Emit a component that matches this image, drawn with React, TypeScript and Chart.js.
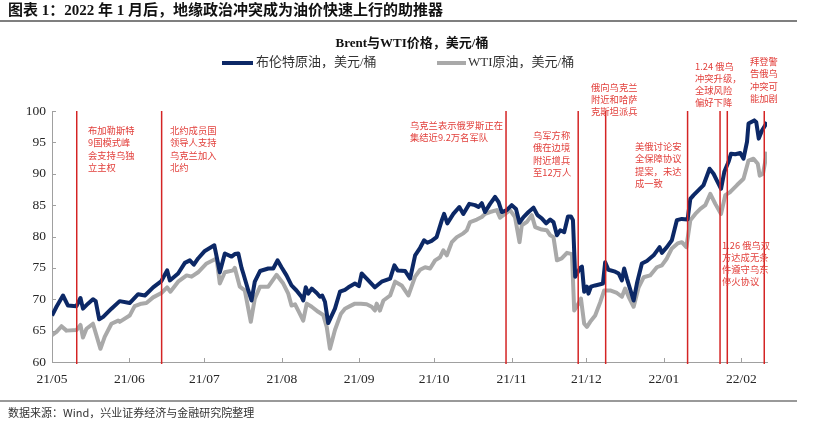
import React, { useEffect, useRef } from "react";
import { Chart, registerables } from "chart.js";

Chart.register(...registerables);

// x values are days counted from 2021-05-01
const monthTicks = [0, 31, 61, 92, 123, 153, 184, 214, 245, 276];
const monthLabels = ["21/05", "21/06", "21/07", "21/08", "21/09", "21/10", "21/11", "21/12", "22/01", "22/02"];
const yTicks = [60, 65, 70, 75, 80, 85, 90, 95, 100];

const brentDays = [
  0, 1.8, 4.4, 6.4, 9.8, 11.4, 12.4, 14.4, 16.4, 17.5, 18.9, 20.5, 23.8, 27.1, 31.1, 34.5, 37.2, 40.5, 43.8, 46.1,
  47.2, 50.5, 53.2, 55.2, 56.8, 58.5, 61.2, 65.0, 67.2, 69.2, 71.9, 73.2, 74.6, 75.9, 76.6, 78.6, 79.9, 81.2, 83.3, 86.6,
  88.6, 90.3, 91.9, 93.9, 95.9, 97.9, 99.9, 100.6, 101.6, 102.6, 104.0, 106.0, 107.3, 108.2, 109.3, 110.6, 113.3, 115.3, 117.3, 118.7,
  121.3, 122.9, 124.0, 126.0, 129.3, 132.0, 135.4, 137.1, 138.4, 141.4, 143.4, 145.4, 147.4, 149.0, 150.3, 152.0, 154.0, 156.1, 157.0, 158.3,
  160.7, 163.1, 164.7, 167.1, 169.4, 170.8, 172.1, 173.4, 175.4, 177.4, 178.8, 180.1, 182.1, 184.1, 185.8, 187.2, 188.8, 190.8, 192.8, 194.4,
  196.1, 197.9, 199.5, 200.8, 202.2, 203.5, 205.1, 206.6, 207.8, 208.6, 209.5, 211.5, 212.2, 213.1, 214.2, 214.8, 215.8, 217.5, 219.5, 220.6,
  221.5, 222.8, 225.5, 226.9, 228.2, 229.1, 230.2, 232.9, 234.2, 236.2, 238.2, 240.9, 243.3, 244.2, 246.2, 248.2, 250.2, 252.2, 254.5, 255.6,
  256.9, 258.9, 260.9, 263.3, 264.9, 266.5, 267.9, 269.2, 270.9, 271.9, 273.6, 275.6, 276.9, 278.3, 278.9, 281.2, 282.0, 283.0, 284.3, 286.3,
];
const brentVals = [
  67.4, 68.8, 70.6, 69.0, 68.9, 70.2, 68.5, 69.3, 70.0, 69.7, 66.8, 67.2, 68.5, 69.7, 69.4, 70.8, 70.6, 71.9, 72.9, 74.6,
  73.0, 74.1, 75.8, 76.2, 75.5, 76.5, 77.7, 78.6, 74.3, 77.3, 76.8, 77.2, 77.3, 75.0, 74.1, 71.4, 69.8, 72.8, 74.5, 74.9,
  74.9, 76.2, 75.1, 73.8, 72.2, 71.4, 70.4, 69.8, 71.9, 70.9, 71.7, 71.0, 70.4, 70.6, 69.6, 66.2, 68.5, 71.2, 71.5, 71.9,
  72.5, 72.1, 74.1, 73.3, 71.9, 72.8, 73.3, 75.4, 74.6, 74.5, 73.3, 77.0, 78.2, 79.4, 79.0, 79.3, 79.9, 82.6, 83.6, 82.1,
  83.6, 84.7, 83.6, 85.2, 85.0, 84.7, 85.3, 83.9, 85.2, 86.3, 85.5, 83.9, 84.2, 85.0, 84.4, 82.2, 83.1, 83.9, 84.6, 83.4,
  82.9, 82.1, 82.7, 82.3, 80.2, 81.0, 80.7, 83.2, 83.2, 82.6, 73.6, 75.0, 75.2, 71.2, 72.0, 70.9, 72.0, 72.2, 72.4, 72.5,
  75.9, 74.7, 74.4, 74.1, 73.0, 74.9, 73.3, 69.8, 72.5, 75.7, 76.1, 77.0, 78.3, 77.4, 78.3, 79.4, 82.6, 82.8, 82.7, 86.0,
  86.6, 87.4, 88.2, 90.8, 90.0, 88.7, 87.6, 90.3, 91.9, 93.2, 93.1, 93.3, 92.4, 95.1, 98.0, 98.5, 98.2, 95.6, 96.9, 98.2,
];

const wtiDays = [
  0, 1.8, 3.8, 5.8, 9.8, 11.4, 12.4, 13.8, 16.4, 19.4, 21.1, 23.8, 26.5, 27.1, 31.1, 33.1, 35.8, 37.8, 40.5, 43.8,
  46.1, 47.4, 50.5, 53.9, 55.9, 58.5, 61.9, 65.9, 67.2, 69.2, 72.6, 73.2, 75.2, 77.2, 79.6, 81.2, 83.3, 86.6, 89.9, 92.6,
  94.6, 95.9, 97.3, 98.6, 100.6, 102.0, 104.0, 106.6, 108.6, 110.0, 111.3, 113.3, 115.7, 117.3, 119.3, 121.3, 123.7, 126.0, 128.0, 129.3,
  130.0, 131.3, 132.7, 135.4, 137.4, 140.0, 142.7, 145.4, 147.4, 149.4, 151.4, 153.4, 155.4, 156.7, 158.1, 160.1, 162.1, 164.7, 166.1, 167.4,
  170.1, 172.1, 173.4, 175.4, 178.1, 179.4, 181.4, 183.4, 185.4, 187.2, 188.1, 190.1, 192.1, 193.5, 196.1, 198.1, 199.5, 200.8, 202.2, 204.1,
  206.2, 208.2, 209.1, 210.8, 211.8, 213.1, 214.2, 215.5, 217.5, 219.5, 221.1, 223.5, 226.2, 228.2, 229.5, 230.9, 232.9, 234.9, 236.9, 239.5,
  242.2, 244.2, 246.2, 248.2, 250.5, 252.2, 254.0, 255.6, 257.6, 259.6, 261.6, 263.6, 265.6, 267.9, 269.6, 271.6, 274.3, 276.9, 278.9, 280.9,
  282.6, 283.4, 284.7, 286.3,
];
const wtiVals = [
  64.3, 64.8, 65.7, 65.0, 65.1, 65.9, 63.9, 65.3, 66.1, 62.1, 64.0, 66.1, 66.6, 66.4, 67.4, 68.9, 69.3, 69.4, 70.3, 71.0,
  71.9, 71.2, 72.8, 73.8, 73.6, 74.3, 75.7, 76.5, 72.5, 74.3, 74.6, 75.0, 72.0, 71.4, 66.4, 70.1, 72.0, 72.0, 73.9, 72.5,
  70.9, 69.0, 69.2, 68.2, 66.6, 69.3, 68.8, 68.0, 67.5, 65.6, 62.1, 65.1, 67.7, 68.5, 68.9, 69.3, 69.3, 69.2, 68.8, 68.2,
  69.3, 68.2, 69.8, 70.6, 72.8, 72.2, 70.6, 73.6, 74.7, 75.1, 74.9, 76.2, 76.7, 77.8, 77.0, 79.1, 79.9, 80.5, 81.0, 82.3,
  82.7, 83.1, 83.6, 83.9, 84.2, 83.0, 83.6, 84.2, 83.1, 79.1, 81.8, 82.3, 83.4, 81.5, 81.1, 81.0, 80.2, 79.9, 76.2, 76.5,
  77.4, 77.2, 68.2, 69.3, 70.1, 66.1, 65.6, 66.4, 67.4, 69.5, 71.4, 71.4, 71.0, 70.4, 71.7, 70.4, 68.8, 71.9, 73.5, 73.8,
  75.1, 75.4, 76.5, 78.1, 78.9, 79.1, 78.3, 82.6, 83.6, 84.4, 85.0, 86.8, 85.2, 83.6, 86.6, 87.1, 88.2, 89.2, 92.1, 92.4,
  91.6, 89.7, 90.0, 93.5,
];

// event markers (days from 2021-05-01)
const eventDays = [9.9, 43.9, 181.8, 210.7, 221.7, 254.5, 267.5, 270.4, 285.2];

const noteTexts = [
  ["布加勒斯特", "9国模式峰", "会支持乌独", "立主权"],
  ["北约成员国", "领导人支持", "乌克兰加入", "北约"],
  ["乌克兰表示俄罗斯正在", "集结近9.2万名军队"],
  ["乌军方称", "俄在边境", "附近增兵", "至12万人"],
  ["俄向乌克兰", "附近和哈萨", "克斯坦派兵"],
  ["美俄讨论安", "全保障协议", "提案，未达", "成一致"],
  ["1.24 俄乌", "冲突升级，", "全球风险", "偏好下降"],
  ["拜登警", "告俄乌", "冲突可", "能加剧"],
  ["1.26 俄乌双", "方达成无条", "件遵守乌东", "停火协议"],
];
const notePos = [
  [88, 130.5], [170, 130.5], [410, 125], [533, 135.5], [591, 87],
  [635, 146.5], [695, 66], [750, 61.5], [722, 245],
];

const TITLE = "图表 1：2022 年 1 月后，地缘政治冲突成为油价快速上行的助推器";
const CHART_TITLE = "Brent与WTI价格，美元/桶";
const LEGEND = ["布伦特原油，美元/桶", "WTI原油，美元/桶"];
const SOURCE = "数据来源：Wind，兴业证券经济与金融研究院整理";

const NAVY = "#0C2866";
const GREY = "#A9A9A9";
const RED_LINE = "#D42424";
const RED_TEXT = "#E2403C";
const SERIF = '"Liberation Serif", "Times New Roman", "Noto Sans CJK SC", serif';
const CJK = '"Noto Sans CJK SC", "Liberation Sans", sans-serif';

const overlay = {
  id: "overlay",
  afterDatasetsDraw(chart: any) {
    const { ctx, chartArea, scales } = chart;
    const x = scales.x;
    ctx.save();
    ctx.strokeStyle = RED_LINE;
    ctx.lineWidth = 1.5;
    eventDays.forEach((d) => {
      const px = x.getPixelForValue(d);
      ctx.beginPath();
      ctx.moveTo(px, chartArea.top);
      ctx.lineTo(px, chartArea.bottom + 2);
      ctx.stroke();
    });
    ctx.restore();
  },
  afterDraw(chart: any) {
    const { ctx, chartArea, scales } = chart;
    const x = scales.x;
    const y = scales.y;
    ctx.save();
    // inner tick marks
    ctx.strokeStyle = "#A0A0A0";
    ctx.lineWidth = 1;
    monthTicks.forEach((m) => {
      const px = Math.round(x.getPixelForValue(m)) + 0.5;
      ctx.beginPath();
      ctx.moveTo(px, chartArea.bottom);
      ctx.lineTo(px, chartArea.bottom - 4);
      ctx.stroke();
    });
    yTicks.forEach((v) => {
      const py = Math.round(y.getPixelForValue(v)) + 0.5;
      ctx.beginPath();
      ctx.moveTo(chartArea.left, py);
      ctx.lineTo(chartArea.left + 4, py);
      ctx.stroke();
    });

    // title
    ctx.fillStyle = "#111";
    ctx.textBaseline = "middle";
    ctx.textAlign = "left";
    ctx.font = `bold 15px ${SERIF}`;
    ctx.fillText(TITLE, 8, 11);
    ctx.strokeStyle = "#555";
    ctx.lineWidth = 1.5;
    ctx.beginPath();
    ctx.moveTo(0, 21);
    ctx.lineTo(797, 21);
    ctx.stroke();

    // chart title
    ctx.font = `bold 13px ${SERIF}`;
    ctx.textAlign = "center";
    ctx.fillStyle = "#111";
    ctx.fillText(CHART_TITLE, 412, 44);

    // legend
    ctx.textAlign = "left";
    ctx.font = `13px ${SERIF}`;
    ctx.fillStyle = "#333";
    ctx.lineWidth = 4;
    ctx.strokeStyle = NAVY;
    ctx.beginPath();
    ctx.moveTo(222, 63);
    ctx.lineTo(253, 63);
    ctx.stroke();
    ctx.fillText(LEGEND[0], 256, 63);
    ctx.strokeStyle = GREY;
    ctx.beginPath();
    ctx.moveTo(437, 63);
    ctx.lineTo(466, 63);
    ctx.stroke();
    ctx.fillText(LEGEND[1], 468, 63);

    // annotations
    ctx.fillStyle = RED_TEXT;
    ctx.font = `9.3px ${CJK}`;
    noteTexts.forEach((lines, i) => {
      const [nx, ny] = notePos[i];
      lines.forEach((t, j) => ctx.fillText(t, nx, ny + j * 12.3));
    });

    // footer
    ctx.strokeStyle = "#777";
    ctx.lineWidth = 1.5;
    ctx.beginPath();
    ctx.moveTo(0, 401);
    ctx.lineTo(797, 401);
    ctx.stroke();
    ctx.fillStyle = "#333";
    ctx.font = `11px ${CJK}`;
    ctx.fillText(SOURCE, 8, 413);
    ctx.restore();
  },
};

export default function App() {
  const ref = useRef<HTMLCanvasElement | null>(null);
  useEffect(() => {
    document.body.style.margin = "0";
    if (!ref.current) return;
    const chart = new Chart(ref.current, {
      type: "line",
      data: {
        datasets: [
          {
            label: LEGEND[0],
            data: brentDays.map((d, i) => ({ x: d, y: brentVals[i] })),
            borderColor: NAVY,
            backgroundColor: NAVY,
            borderWidth: 4,
            pointRadius: 0,
            tension: 0,
            borderJoinStyle: "round",
          },
          {
            label: LEGEND[1],
            data: wtiDays.map((d, i) => ({ x: d, y: wtiVals[i] })),
            borderColor: GREY,
            backgroundColor: GREY,
            borderWidth: 4,
            pointRadius: 0,
            tension: 0,
            borderJoinStyle: "round",
          },
        ],
      },
      options: {
        responsive: false,
        animation: false,
        layout: { padding: { top: 111, right: 50, bottom: 0, left: 0 } },
        plugins: {
          legend: { display: false },
          title: { display: false },
          tooltip: { enabled: false },
        },
        scales: {
          x: {
            type: "linear",
            min: 0,
            max: 286.3,
            grid: { display: false, drawTicks: false },
            border: { display: true, color: "#A0A0A0", width: 1 },
            afterBuildTicks: (s: any) => {
              s.ticks = monthTicks.map((v) => ({ value: v }));
            },
            afterFit: (s: any) => {
              s.height = 62;
            },
            ticks: {
              autoSkip: false,
              maxRotation: 0,
              padding: 9,
              color: "#262626",
              font: { family: SERIF, size: 13.5 },
              callback: (_v: any, i: number) => monthLabels[i],
            },
          },
          y: {
            min: 60,
            max: 100,
            grid: { display: false, drawTicks: false },
            border: { display: true, color: "#A0A0A0", width: 1 },
            afterFit: (s: any) => {
              s.width = 52;
            },
            ticks: {
              stepSize: 5,
              padding: 6,
              color: "#262626",
              font: { family: SERIF, size: 13.5 },
            },
          },
        },
      },
      plugins: [overlay],
    } as any);
    return () => chart.destroy();
  }, []);
  return <canvas ref={ref} width={817} height={424} style={{ display: "block" }} />;
}
